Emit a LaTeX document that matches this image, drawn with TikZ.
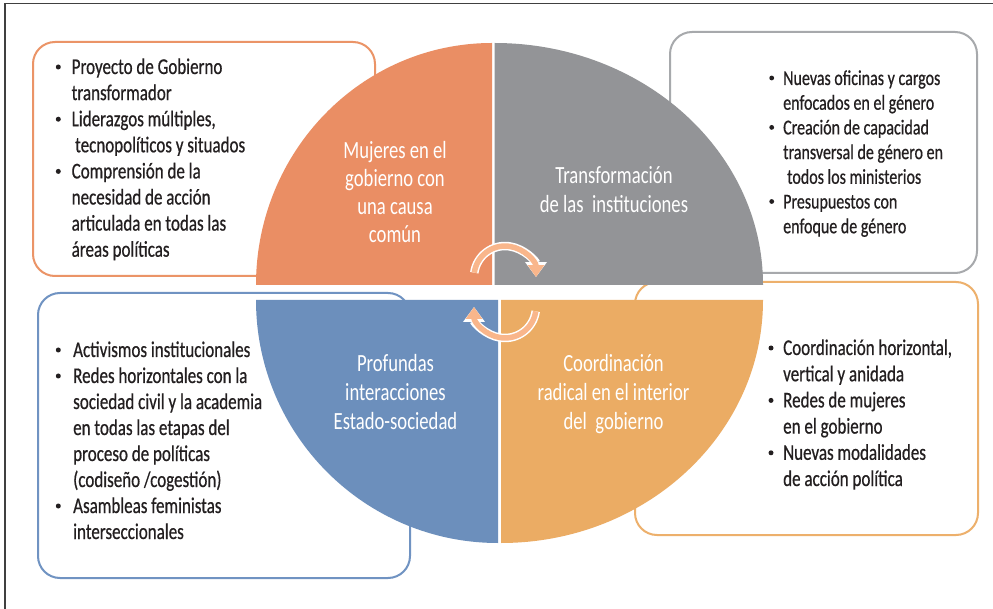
\documentclass[tikz,border=0pt]{standalone}
\usepackage{fontspec}
\setmainfont{Carlito}[FakeStretch=0.755]
\newfontfamily\bodyfam{Carlito}[FakeStretch=0.755, FakeBold=0.6]
\usetikzlibrary{arrows.meta}
\definecolor{qorange}{HTML}{EA8E64}
\definecolor{qgray}{HTML}{939497}
\definecolor{qblue}{HTML}{6C8FBC}
\definecolor{qyellow}{HTML}{EBAC64}
\definecolor{borange}{HTML}{EB9467}
\definecolor{bgray}{HTML}{A7A9AC}
\definecolor{bblue}{HTML}{7093C2}
\definecolor{byellow}{HTML}{EDB06C}
\definecolor{peach}{HTML}{F9B68B}
\definecolor{txtc}{HTML}{231F20}
\definecolor{framec}{HTML}{404040}
\newcommand\bodyfont{\bodyfam\fontsize{22.5}{26}\selectfont}
\newcommand\smallbodyfont{\bodyfam\fontsize{21.2}{24.7}\selectfont}
\newcommand\piefont{\fontsize{24.7}{29}\selectfont}
\tikzset{
  body/.style={anchor=base west, inner sep=0pt, font=\bodyfont, text=txtc},
  bodys/.style={body, font=\smallbodyfont},
  pielab/.style={anchor=base, inner sep=0pt, font=\piefont, text=white},
  bul/.style={fill=txtc},
  card/.style={line width=2pt, rounded corners=22pt, fill=white},
  frameline/.style={draw=framec, line width=1.3pt},
  arwunder/.style={line width=8.5pt, white, -{Triangle[width=21pt,length=15pt]}},
  arwover/.style={line width=5.5pt, peach, -{Triangle[width=16pt,length=12pt]}},
}
\begin{document}
\begin{tikzpicture}[x=1pt,y=1pt]
\useasboundingbox (0,0) rectangle (993,-609);
\fill[white] (0,0) rectangle (993,-609);
% outer frame (only top and left edges visible)
\draw[frameline] (5,-609) -- (5,-3.5) -- (993,-3.5);

% cards
\draw[card, draw=borange] (33,-42) rectangle (375,-276);
\draw[card, draw=bgray] (670,-32) rectangle (977,-273);
\draw[card, draw=bblue] (38,-293) rectangle (410,-578);
\draw[card, draw=byellow] (635,-282) rectangle (978,-535);

% pie quadrants
\fill[qorange] (492,-285) -- (256,-285) arc[start angle=180, end angle=90, x radius=236, y radius=242] -- cycle;
\fill[qgray] (494.5,-285) -- (494.5,-43) arc[start angle=90, end angle=0, x radius=268.5, y radius=242] -- cycle;
\fill[qblue] (498,-300) -- (498,-543) arc[start angle=270, end angle=180, x radius=242, y radius=243] -- cycle;
\fill[qyellow] (501,-300) -- (763,-300) arc[start angle=0, end angle=-90, x radius=262, y radius=243] -- cycle;

% cycle arrows
\draw[arwunder] (474.3,-272.7) arc[start angle=172, end angle=0, radius=31];
\draw[arwover] (474.3,-272.7) arc[start angle=172, end angle=0, radius=31];
\draw[arwunder] (535.7,-311.3) arc[start angle=352, end angle=180, radius=31];
\draw[arwover] (535.7,-311.3) arc[start angle=352, end angle=180, radius=31];

% pie labels
\node[pielab] (m1) at (395,-159) {Mujeres en el};
\node[pielab] (m2) at (395,-187) {gobierno con};
\node[pielab] (m3) at (395,-215) {una causa};
\node[pielab] (m4) at (395,-243) {común};
\node[pielab] (t1) at (614,-184) {Transformación};
\node[pielab] (t2) at (614,-213) {de las~ instituciones};
\node[pielab] (p1) at (395.5,-371) {Profundas};
\node[pielab] (p2) at (395.5,-400) {interacciones};
\node[pielab] (p3) at (395.5,-429) {Estado-sociedad};
\node[pielab] (c1) at (613.5,-371) {Coordinación};
\node[pielab] (c2) at (613.5,-400) {radical en el interior};
\node[pielab] (c3) at (613.5,-429) {del~ gobierno};

% top-left card text
\fill[bul] (58.3,-67) circle (2.5);
\fill[bul] (58.3,-119.2) circle (2.5);
\fill[bul] (58.3,-171.4) circle (2.5);
\node[body] (tl1) at (71.5,-74) {Proyecto de Gobierno};
\node[body] (tl2) at (71.5,-100.1) {transformador};
\node[body] (tl3) at (71.5,-126.2) {Liderazgos múltiples,};
\node[body] (tl4) at (75,-152.3) {tecnopolíticos y situados};
\node[body] (tl5) at (71.5,-178.4) {Comprensión de la};
\node[body] (tl6) at (71.5,-204.5) {necesidad de acción};
\node[body] (tl7) at (71.5,-230.6) {articulada en todas las};
\node[body] (tl8) at (71.5,-256.7) {áreas políticas};

% top-right card text
\fill[bul] (771.7,-78) circle (2.4);
\fill[bul] (771.7,-127.4) circle (2.4);
\fill[bul] (771.7,-201.5) circle (2.4);
\node[bodys] (tr1) at (783,-85) {Nuevas oficinas y cargos};
\node[bodys] (tr2) at (783,-109.7) {enfocados en el género};
\node[bodys] (tr3) at (783,-134.4) {Creación de capacidad};
\node[bodys] (tr4) at (783,-159.1) {transversal de género en};
\node[bodys] (tr5) at (787,-183.8) {todos los ministerios};
\node[bodys] (tr6) at (783,-208.5) {Presupuestos con};
\node[bodys] (tr7) at (783,-233.2) {enfoque de género};

% bottom-left card text
\fill[bul] (58.3,-350) circle (2.5);
\fill[bul] (58.3,-376) circle (2.5);
\fill[bul] (58.3,-506) circle (2.5);
\node[body] (bl1) at (73,-357) {Activismos institucionales};
\node[body] (bl2) at (73,-383) {Redes horizontales con la};
\node[body] (bl3) at (73,-409) {sociedad civil y la academia};
\node[body] (bl4) at (73,-435) {en todas las etapas del};
\node[body] (bl5) at (73,-461) {proceso de políticas};
\node[body] (bl6) at (73,-487) {(codiseño /cogestión)};
\node[body] (bl7) at (73,-513) {Asambleas feministas};
\node[body] (bl8) at (73,-539) {interseccionales};

% bottom-right card text
\fill[bul] (771,-348) circle (2.5);
\fill[bul] (771,-400.4) circle (2.5);
\fill[bul] (771,-452.8) circle (2.5);
\node[body] (br1) at (783,-355) {Coordinación horizontal,};
\node[body] (br2) at (783,-381.2) {vertical y anidada};
\node[body] (br3) at (783,-407.4) {Redes de mujeres};
\node[body] (br4) at (783,-433.6) {en el gobierno};
\node[body] (br5) at (783,-459.8) {Nuevas modalidades};
\node[body] (br6) at (783,-486) {de acción política};
\end{tikzpicture}
\end{document}
